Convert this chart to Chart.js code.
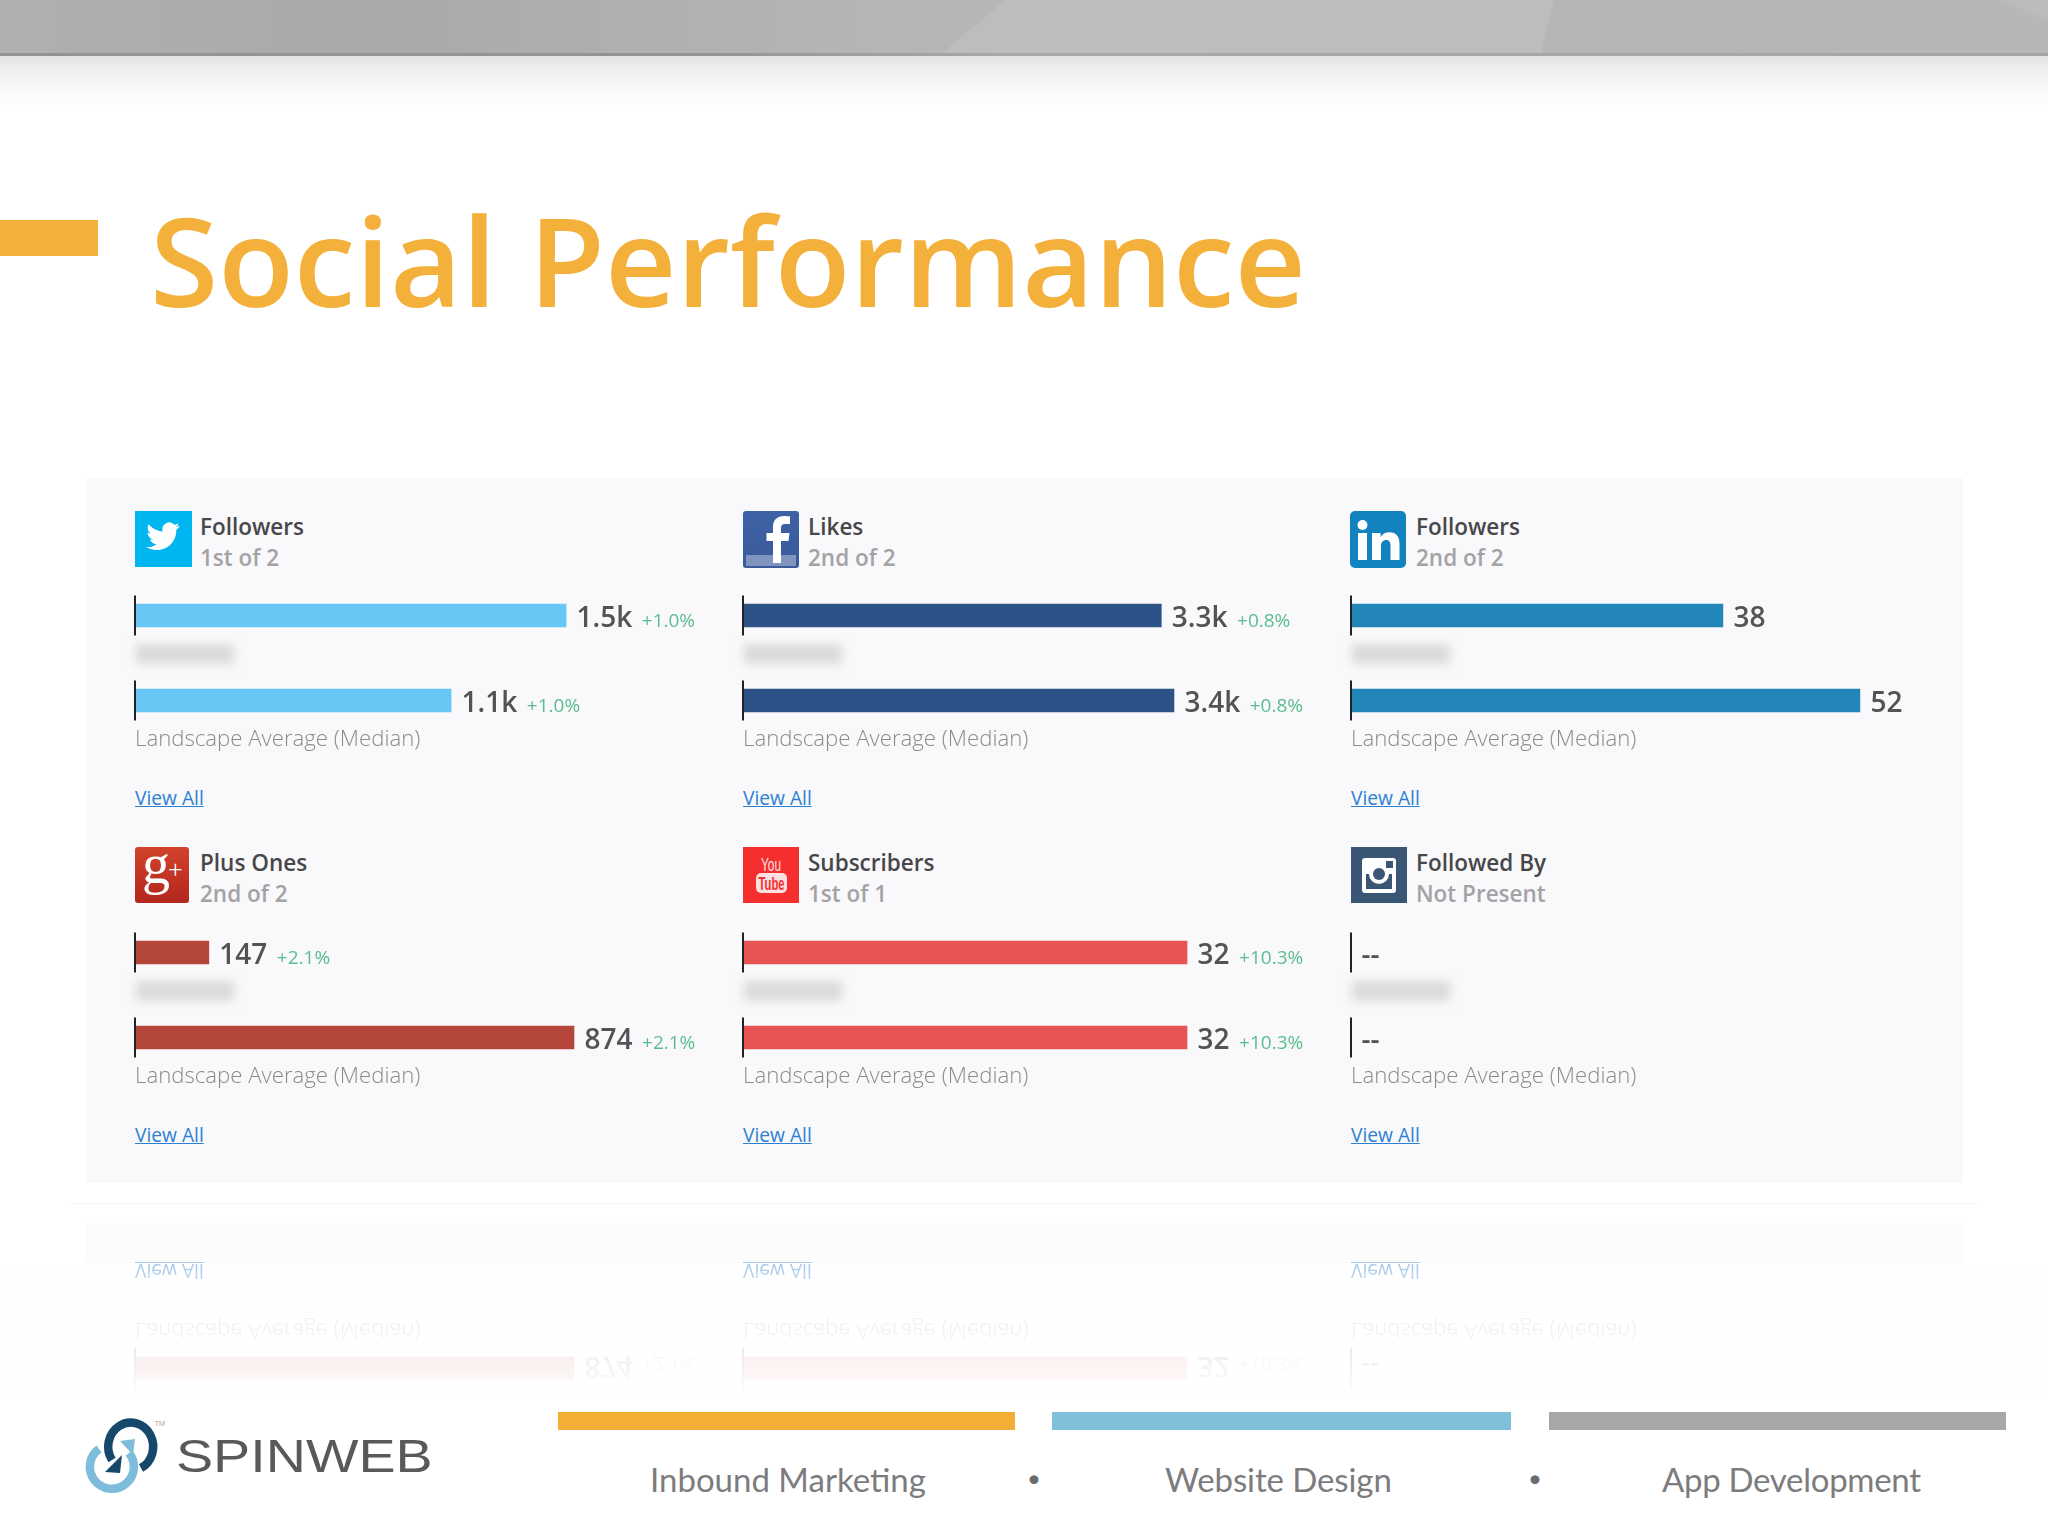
<!DOCTYPE html>
<html>
<head>
<meta charset="utf-8">
<title>Social Performance</title>
<script src="https://cdn.jsdelivr.net/npm/chart.js@4"></script>
<style>
html,body{margin:0;padding:0;background:#fff;}
body{width:2048px;height:1536px;position:relative;overflow:hidden;font-family:"Open Sans",sans-serif;}
.abs{position:absolute;}
.txt{position:absolute;white-space:nowrap;line-height:1;}
canvas{position:absolute;}
a{color:#2b80d4;}
</style>
</head>
<body>
<div id="page"></div>
<script>
/* ---------- data ---------- */
const metricNames   = ["Followers","Likes","Followers","Plus Ones","Subscribers","Followed By"];
const rankLabels    = ["1st of 2","2nd of 2","2nd of 2","2nd of 2","1st of 1","Not Present"];
const categories    = ["", "Landscape Average (Median)"];
const companyValues = [1500, 3300, 38, 147, 32, null];
const medianValues  = [1100, 3400, 52, 874, 32, null];
const companyText   = ["1.5k","3.3k","38","147","32","--"];
const medianText    = ["1.1k","3.4k","52","874","32","--"];
const companyDelta  = ["+1.0%","+0.8%","","+2.1%","+10.3%",""];
const medianDelta   = ["+1.0%","+0.8%","","+2.1%","+10.3%",""];
const axisMaxima    = [2074, 4702, 60.9, 1186.6, 42.95, 1];
const barColors     = ["#69c7f5","#2c5288","#2386b8","#b5473a","#e85454","#888888"];
const footerLabels  = ["Inbound Marketing","Website Design","App Development"];

const page = document.getElementById("page");
function el(parent, css, cls, html){
  const d=document.createElement("div");
  if(cls) d.className=cls;
  d.style.cssText=css;
  if(html!==undefined) d.innerHTML=html;
  parent.appendChild(d);
  return d;
}

/* ---------- header band ---------- */
el(page,"left:0;top:0;width:2048px;height:55px;background:linear-gradient(90deg,#b0b0b0 0,#a9a9a9 380px,#aeaeae 560px,#b6b6b6 900px,#b8b8b8 2048px);","abs");
el(page,"left:0;top:0;width:2048px;height:55px;background:#bdbdbd;clip-path:polygon(1005px 0,1554px 0,1541px 55px,940px 55px);","abs");
el(page,"left:0;top:0;width:2048px;height:55px;background:linear-gradient(90deg,#b2b2b2,#b7b7b7);clip-path:polygon(1554px 0,2048px 0,2048px 55px,1541px 55px);","abs");
el(page,"left:0;top:0;width:2048px;height:55px;background:#bcbcbc;clip-path:polygon(2000px 0,2048px 0,2048px 20px);","abs");
el(page,"left:0;top:53px;width:2048px;height:3px;background:linear-gradient(90deg,#949494 0,#949494 700px,#a8a8a8 1000px,#a6a6a6 2048px);","abs");
el(page,"left:0;top:56px;width:2048px;height:50px;background:linear-gradient(180deg,#e3e3e3 0,#eeeeee 25%,#fafafa 70%,#ffffff 100%);","abs");

/* ---------- title ---------- */
el(page,"left:150px;top:197px;font-size:124px;font-weight:600;color:#f3b03b;","txt","Social Performance");
el(page,"left:0;top:220px;width:98px;height:36px;background:#f3b03b;","abs");

/* ---------- panel ---------- */
el(page,"left:86px;top:478px;width:1877px;height:705px;background:#f9f8fa;","abs");
el(page,"left:70px;top:1203px;width:1909px;height:1px;background:#f5f5f7;","abs");

/* ---------- icons ---------- */
const icons=[
 `<svg width="57" height="56" viewBox="0 0 57 56"><rect width="57" height="56" fill="#00b6f1"/><path fill="#fff" d="M47 16.5c-1.6.7-3.300 1.200-5 1.400 1.800-1.100 3.200-2.800 3.800-4.800-1.700 1-3.600 1.700-5.500 2.100A8.800 8.800 0 0 0 25.300 23.700C18 23.300 11.500 19.800 7.200 14.500c-2.300 4-1.200 9.100 2.700 11.700-1.400 0-2.800-.4-4-1.100 0 4.200 3 7.800 7 8.700-1.300.3-2.600.4-3.900.1 1.100 3.500 4.400 6 8.200 6.100-3.700 2.900-8.300 4.100-12.900 3.600 3.900 2.500 8.500 3.900 13.400 3.900 16.300 0 25.500-13.700 25-26 1.700-1.200 3.200-2.800 4.300-4.600z" transform="translate(8 2) scale(.78)"/></svg>`,
 `<svg width="56" height="57" viewBox="0 0 56 57"><defs><linearGradient id="fb" x1="0" y1="0" x2="0" y2="1"><stop offset="0" stop-color="#3e62a6"/><stop offset="1" stop-color="#3a5a9a"/></linearGradient></defs><rect width="56" height="57" rx="3" fill="url(#fb)"/><rect x="3" y="44" width="50" height="11" fill="#7f95c0"/><path fill="#fff" d="M38 52V30h7.500l1-8H38v-5c0-2.500 1-4 4-4h5V5.500C45.500 5.200 43.500 5 41 5c-6 0-11 3.500-11 10.500V22h-6.500v8H30v22z"/></svg>`,
 `<svg width="56" height="57" viewBox="0 0 56 57"><rect width="56" height="57" rx="5" fill="#1383bf"/><circle cx="12.500" cy="14" r="5" fill="#fff"/><rect x="8" y="22" width="9" height="27" fill="#fff"/><path fill="#fff" d="M22 22h8.500v4c1.800-3 5-4.700 8.700-4.700 7.300 0 10.300 4.500 10.300 11.700v16h-9V35c0-3.700-1.100-6-4.200-6-3.200 0-5.300 2.300-5.300 6v14h-9z"/></svg>`,
 `<svg width="54" height="56" viewBox="0 0 54 56"><defs><linearGradient id="gp" x1="0" y1="0" x2="0" y2="1"><stop offset="0" stop-color="#d2432c"/><stop offset="1" stop-color="#b3261c"/></linearGradient></defs><rect width="54" height="56" rx="3" fill="url(#gp)"/><text x="7" y="36" font-family="Liberation Serif" font-size="56" fill="#fff">g</text><text x="33" y="31" font-family="Liberation Serif" font-size="26" fill="#fff">+</text></svg>`,
 `<svg width="56" height="56" viewBox="0 0 56 56"><rect width="56" height="56" fill="#f52f2f"/><text x="28" y="24" text-anchor="middle" font-family="Liberation Sans Narrow,Liberation Sans" font-size="19" fill="#fde0e0" textLength="20" lengthAdjust="spacingAndGlyphs">You</text><rect x="13" y="26" width="31" height="20" rx="5" fill="#fde0e0"/><text x="28.500" y="43" text-anchor="middle" font-family="Liberation Sans Narrow,Liberation Sans" font-weight="700" font-size="19" fill="#f52f2f" textLength="26" lengthAdjust="spacingAndGlyphs">Tube</text></svg>`,
 `<svg width="56" height="56" viewBox="0 0 56 56"><rect width="56" height="56" fill="#3a5675"/><rect x="11" y="11" width="34" height="35" rx="3" fill="#fff"/><rect x="15" y="27" width="26" height="15" fill="#3a5675"/><rect x="15" y="15" width="26" height="12" fill="#fff"/><circle cx="28" cy="27" r="10" fill="#fff"/><circle cx="28" cy="27" r="6" fill="#3a5675"/><rect x="35" y="14" width="7" height="7" fill="#3a5675"/></svg>`
];

/* ---------- per-bar labels, ticks and category text, all from the scales ---------- */
const barDecor={
  id:"barDecor",
  afterDatasetsDraw(chart,args,opts){
    const {ctx,scales:{x,y}}=chart, x0=x.getPixelForValue(0);
    ctx.save();
    categories.forEach((cat,i)=>{
      const cy=y.getPixelForTick(i);
      ctx.fillStyle="#222";
      ctx.fillRect(x0-1,cy-20,2,40);
      const v=chart.data.datasets[0].data[i];
      const endX=(v===null?x0:x.getPixelForValue(v))+10.5;
      const base=cy+11;
      ctx.textAlign="left"; ctx.textBaseline="alphabetic";
      ctx.font='600 28px "Open Sans"'; ctx.fillStyle="#535356";
      const t=opts.valueText[i];
      ctx.fillText(t,endX,base);
      const w=ctx.measureText(t).width;
      if(opts.deltaText[i]){
        ctx.font='400 19px "Open Sans"'; ctx.fillStyle="#5cbc90";
        ctx.fillText(opts.deltaText[i],endX+w+9.500,base);
      }
      if(cat){
        ctx.font='300 22.200px "Open Sans"'; ctx.fillStyle="#8b8b8e";
        ctx.fillText(cat,x0,cy+45);
      }
    });
    ctx.restore();
  }
};

function buildPanel(parent,i,colX,rowDy){
  const headDy=rowDy?336:0;
  const iconTop=511+headDy, iconLeft=colX-(i===2?1:0);
  el(parent,`left:${iconLeft}px;top:${iconTop}px;line-height:0;`,"abs",icons[i]);
  el(parent,`left:${colX+65}px;top:${516+headDy}px;font-size:22.500px;font-weight:600;color:#47474a;`,"txt",metricNames[i]);
  el(parent,`left:${colX+65}px;top:${547+headDy}px;font-size:22.500px;font-weight:600;color:#a3a3a6;`,"txt",rankLabels[i]);
  /* the company name is blurred out in the source, so only a blurred smear is drawn */
  el(parent,`left:${colX+1}px;top:${644+rowDy}px;width:98px;height:20px;background:#dadadd;filter:blur(5px);`,"abs");
  el(parent,`left:${colX}px;top:${788+rowDy}px;font-size:19.200px;color:#2b80d4;`,"txt",`<a href="#">View All</a>`);

  const cv=document.createElement("canvas");
  cv.width=600; cv.height=182;
  cv.style.cssText=`left:${colX-4}px;top:${573+rowDy}px;width:600px;height:182px;`;
  parent.appendChild(cv);
  new Chart(cv,{
    type:"bar",
    data:{labels:categories,datasets:[{
      data:[companyValues[i],medianValues[i]],
      backgroundColor:barColors[i],
      barThickness:23,
      borderWidth:0
    }]},
    options:{
      indexAxis:"y",responsive:false,animation:false,
      layout:{padding:{left:4,right:0,top:0,bottom:12}},
      plugins:{legend:{display:false},tooltip:{enabled:false},
        barDecor:{valueText:[companyText[i],medianText[i]],deltaText:[companyDelta[i],medianDelta[i]]}},
      scales:{
        x:{display:false,min:0,max:axisMaxima[i]},
        y:{display:false}
      }
    },
    plugins:[barDecor]
  });
}

const colXs=[135,743,1351];
for(let i=0;i<6;i++){ buildPanel(page,i,colXs[i%3],i<3?0:337); }

/* ---------- floor reflection of the lower row ---------- */
const mirror=el(page,"left:0;top:0;width:2048px;height:1536px;transform-origin:0 1203px;transform:scaleY(-1);opacity:.42;","abs");
el(mirror,"left:86px;top:1143px;width:1877px;height:40px;background:#f9f8fa;","abs");
for(let i=3;i<6;i++){ buildPanel(mirror,i,colXs[i%3],337); }
el(page,"left:0;top:1264px;width:2048px;height:150px;background:linear-gradient(180deg,rgba(255,255,255,0) 0,rgba(255,255,255,.55) 22%,rgba(255,255,255,.85) 70%,#fff 88%);","abs");
el(page,"left:0;top:1395px;width:2048px;height:141px;background:#fff;","abs");

/* ---------- footer ---------- */
el(page,"left:558px;top:1412px;width:457px;height:18px;background:#f2ae35;","abs");
el(page,"left:1052px;top:1412px;width:459px;height:18px;background:#7fbfda;","abs");
el(page,"left:1549px;top:1412px;width:457px;height:18px;background:#a7a6a9;","abs");
const footStyle="top:1463px;font-family:Lato;font-size:33px;color:#7c7c7e;";
el(page,"left:650px;"+footStyle,"txt",footerLabels[0]);
el(page,"left:1165px;letter-spacing:-.1px;"+footStyle,"txt",footerLabels[1]);
el(page,"left:1662px;letter-spacing:-.3px;"+footStyle,"txt",footerLabels[2]);
el(page,"left:1027px;top:1466px;font-family:Lato;font-size:24px;color:#6b6b6d;","txt","•");
el(page,"left:1528px;top:1466px;font-family:Lato;font-size:24px;color:#6b6b6d;","txt","•");

/* logo */
el(page,"left:80px;top:1410px;line-height:0;","abs",
`<svg width="90" height="90" viewBox="80 1410 90 90" fill="none">
 <path d="M141 1468A22.500 24 0 1 0 112 1460" stroke="#16486b" stroke-width="8.500"/>
 <path d="M99 1449A22 22 0 1 0 129 1453" stroke="#7dbcdb" stroke-width="8.500"/>
 <path d="M105 1472L122 1455L120 1473z" fill="#16486b"/>
 <path d="M120 1441L135 1439L133 1455z" fill="#7dbcdb"/>
 <text x="155" y="1426" font-family="Open Sans" font-size="7" fill="#999">TM</text>
</svg>`);
el(page,"left:176px;top:1433px;font-family:'Liberation Sans';font-size:46px;color:#58595b;transform-origin:0 0;transform:scaleX(1.21);","txt","SPINWEB");
</script>
</body>
</html>
